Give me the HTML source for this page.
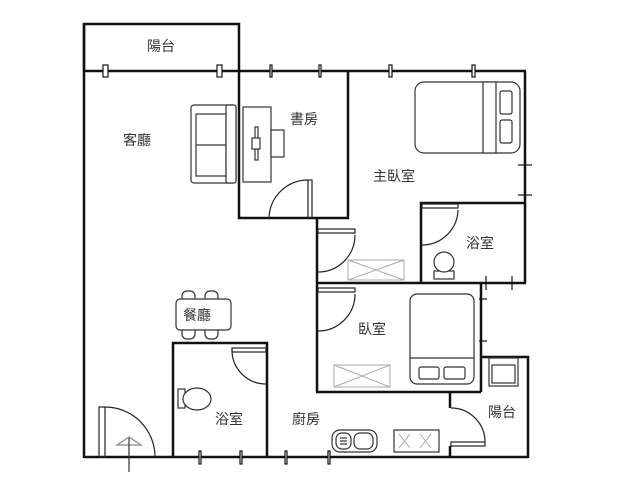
<!DOCTYPE html>
<html><head><meta charset="utf-8"><style>
html,body{margin:0;padding:0;background:#fff;}
svg{display:block;}
text{font-family:"Liberation Sans","Noto Sans CJK TC",sans-serif;font-size:14px;fill:#333;}
</style></head><body>
<svg width="640" height="480" viewBox="0 0 640 480" xmlns="http://www.w3.org/2000/svg">
<g fill="none" stroke="#111" stroke-width="2.5">
<!-- balcony top -->
<polyline points="84,71 84,24 239,24 239,71"/>
<!-- top wall -->
<line x1="84" y1="71" x2="526" y2="71"/>
<!-- left wall -->
<line x1="84" y1="24" x2="84" y2="458"/>
<!-- bottom wall -->
<line x1="84" y1="457" x2="528" y2="457"/>
<!-- study -->
<polyline points="239,71 239,218 348,218 348,71"/>
<!-- master right wall -->
<line x1="525" y1="71" x2="525" y2="283"/>
<!-- master lower left wall -->
<line x1="317" y1="218" x2="317" y2="392"/>
<line x1="316" y1="283" x2="526" y2="283"/>
<!-- master bath -->
<polyline points="421,283 421,203 525,203"/>
<!-- bedroom -->
<line x1="316" y1="392" x2="481" y2="392"/>
<line x1="481" y1="284" x2="481" y2="392"/>
<!-- right balcony -->
<polyline points="481,357 528,357 528,458"/>
<line x1="450" y1="392" x2="450" y2="408"/>
<line x1="450" y1="446" x2="450" y2="457"/>
<!-- small bathroom -->
<polyline points="173,457 173,343 267,343 267,457"/>
</g>
<g fill="#fff" stroke="#111" stroke-width="1.2">
<rect x="103" y="65" width="5" height="12"/><rect x="217" y="65" width="5" height="12"/>
<rect x="270" y="65" width="2" height="12"/><rect x="319" y="65" width="2" height="12"/>
<rect x="389" y="65" width="3" height="12"/><rect x="472" y="65" width="3" height="12"/>
<rect x="199" y="451" width="2" height="13"/><rect x="240" y="451" width="2" height="13"/>
<rect x="285" y="451" width="2" height="13"/><rect x="328" y="451" width="2" height="13"/>
</g>
<g stroke="#111" stroke-width="1.2">
<line x1="518" y1="165" x2="532" y2="165"/><line x1="518" y1="195" x2="532" y2="195"/>
<line x1="512" y1="276" x2="512" y2="290"/><line x1="486" y1="276" x2="486" y2="290"/>
<line x1="479" y1="299" x2="487" y2="299"/><line x1="479" y1="341" x2="487" y2="341"/>
</g>
<!-- furniture -->
<g fill="#fff" stroke="#333" stroke-width="1.2">
<!-- sofa -->
<rect x="191" y="105" width="45" height="78" rx="3"/>
<rect x="196" y="114" width="30" height="62"/>
<line x1="196" y1="145" x2="226" y2="145"/>
<rect x="226" y="105" width="10" height="78" rx="2"/>
<!-- desk -->
<rect x="243" y="107" width="28" height="75"/>
<rect x="271" y="130" width="13" height="27"/>
<rect x="255" y="127" width="3" height="33"/>
<rect x="252" y="138" width="8" height="11"/>
<!-- master bed -->
<rect x="415" y="82" width="105" height="71" rx="9"/>
<rect x="483" y="82" width="13" height="71"/>
<rect x="500" y="91" width="12" height="23" rx="2"/>
<rect x="500" y="120" width="12" height="23" rx="2"/>
<!-- bedroom bed -->
<rect x="410" y="294" width="64" height="90" rx="7"/>
<line x1="410" y1="358" x2="474" y2="358"/>
<rect x="419" y="367" width="20" height="12" rx="2"/>
<rect x="444" y="367" width="21" height="12" rx="2"/>
<!-- dining -->
<rect x="182" y="291" width="13" height="12" rx="5"/><rect x="205" y="291" width="13" height="12" rx="5"/>
<rect x="182" y="326" width="13" height="13" rx="5"/><rect x="205" y="326" width="13" height="13" rx="5"/>
<rect x="176" y="299" width="55" height="31" rx="4"/>
<!-- toilets -->
<rect x="434" y="271" width="20" height="8"/><circle cx="444" cy="262" r="10"/>
<rect x="178" y="389" width="7" height="19"/><ellipse cx="197" cy="399" rx="14" ry="11"/>
<!-- sink -->
<rect x="332" y="430" width="45" height="22" rx="8"/>
<rect x="336" y="433" width="15" height="16" rx="6"/>
<rect x="354" y="433" width="19" height="16" rx="6"/>
<line x1="340" y1="438" x2="347" y2="438"/><line x1="340" y1="441" x2="347" y2="441"/><line x1="340" y1="444" x2="347" y2="444"/>
<!-- stove -->
<rect x="394" y="430" width="45" height="22"/>
<!-- washer -->
<rect x="489" y="358" width="29" height="28"/><rect x="492" y="365" width="23" height="18"/>
</g>
<g stroke="#aaa" stroke-width="1" fill="none">
<rect x="348" y="260" width="56" height="20"/><line x1="348" y1="260" x2="404" y2="280"/><line x1="348" y1="280" x2="404" y2="260"/>
<rect x="334" y="365" width="56" height="22"/><line x1="334" y1="365" x2="390" y2="387"/><line x1="334" y1="387" x2="390" y2="365"/>
<path d="M399,434 L410,448 M410,434 L399,448 M420,434 L431,448 M431,434 L420,448"/>
</g>
<!-- doors -->
<g fill="none" stroke="#222" stroke-width="1.2">
<path d="M269,218 A39,39 0 0 1 308,180"/><rect x="308" y="180" width="4" height="38"/>
<path d="M318,272 A37,37 0 0 0 355,235"/><rect x="318" y="229" width="37" height="4"/>
<path d="M422,245 A36,36 0 0 0 458,210"/><rect x="422" y="204" width="36" height="4"/>
<path d="M318,331 A37,37 0 0 0 355,294"/><rect x="318" y="288" width="37" height="4"/>
<path d="M232,350 A34,34 0 0 0 266,384"/><rect x="232" y="348" width="34" height="4"/>
<path d="M451,408 A34,34 0 0 1 485,442"/><rect x="451" y="442" width="34" height="4"/>
<path d="M105,407 A50,50 0 0 1 155,457"/><rect x="99" y="407" width="6" height="50"/>
<path d="M117,445 L129,437 L141,445 Z" stroke="#888"/>
<line x1="129" y1="438" x2="129" y2="472" stroke="#333"/>
</g>
<text x="147" y="51">陽台</text>
<text x="123" y="145">客廳</text>
<text x="290" y="124">書房</text>
<text x="373" y="181">主臥室</text>
<text x="466" y="248">浴室</text>
<text x="183" y="320">餐廳</text>
<text x="358" y="334">臥室</text>
<text x="215" y="424">浴室</text>
<text x="292" y="424">廚房</text>
<text x="488" y="417">陽台</text>
</svg>
</body></html>
